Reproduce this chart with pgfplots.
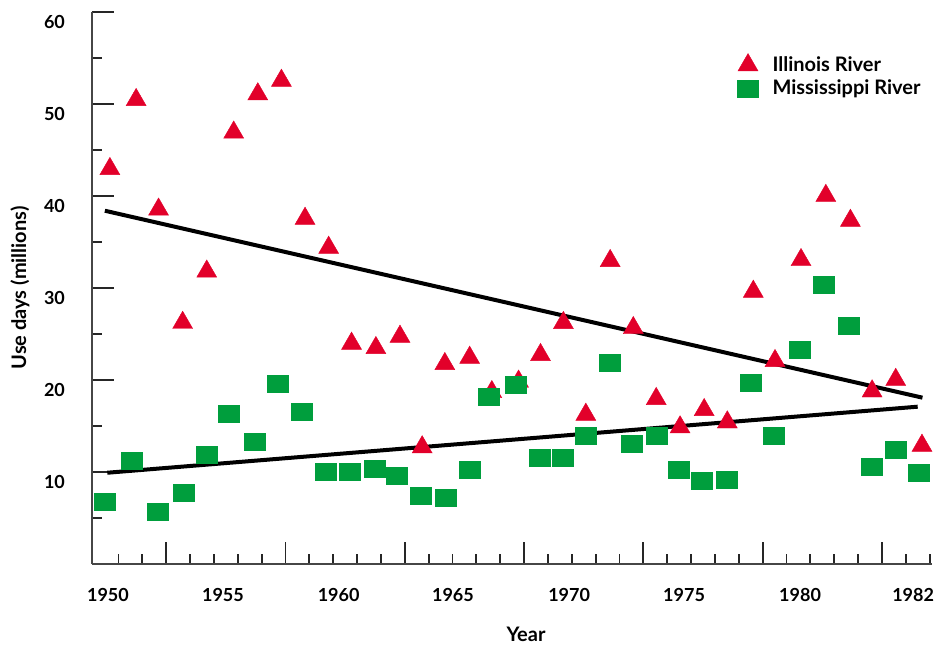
\documentclass[border=0pt]{standalone}
\usepackage{fontspec}
\setmainfont{Lato}
\usepackage{pgfplots}
\pgfplotsset{compat=1.18}

\definecolor{ired}{RGB}{226,0,42}
\definecolor{mgreen}{RGB}{0,158,61}
\definecolor{axisgray}{RGB}{70,70,70}

\begin{document}
\begin{tikzpicture}
\path[use as bounding box] (-46pt,-40.5pt) rectangle (421pt,282pt);
\begin{axis}[
scale only axis,
width=420pt, height=276pt,
xmin=-0.71, xmax=34.5,
ymin=0, ymax=60,
clip=false,
axis lines=left,
axis line style={-, draw=axisgray, line width=1pt},
tick align=inside,
tick style={draw=black!85, line width=0.9pt},
major tick length=11pt,
minor tick length=5pt,
xtick={2.4,7.4,12.4,17.4,22.4,27.4,32.4},
xticklabels={},
minor xtick={0.4,1.4,3.4,4.4,5.4,6.4,8.4,9.4,10.4,11.4,13.4,14.4,15.4,16.4,18.4,19.4,20.4,21.4,23.4,24.4,25.4,26.4,28.4,29.4,30.4,31.4,33.4,34.4},
extra x ticks={-0.04,4.78,9.63,14.42,19.29,24.11,28.97,33.71},
extra x tick labels={1950,1955,1960,1965,1970,1975,1980,1982},
extra x tick style={major tick length=0pt},
xticklabel style={anchor=center, yshift=-15.5pt},
ytick={10,20,30,40,50,60},
minor ytick={5,15,25,35,45,55},
yticklabel style={anchor=east, xshift=-10pt, yshift=-5pt},
tick label style={font=\fontsize{9}{10}\selectfont\bfseries},
/pgf/number format/assume math mode=true,
xlabel={Year},
ylabel={Use days (millions)},
label style={font=\fontsize{10}{11}\selectfont\bfseries},
xlabel style={at={(axis description cs:0.5167,-0.1268)}, anchor=center},
ylabel style={at={(axis description cs:-0.0857,0.5)}, anchor=center},
legend cell align=left,
legend style={at={(axis description cs:0.768,0.928)}, anchor=north west,
  draw=none, fill=none, inner sep=0pt, column sep=5pt, row sep=-1pt,
  font=\fontsize{10}{11}\selectfont\bfseries,
  nodes={inner sep=2pt}},
]
% Illinois River
\addplot [only marks, mark=triangle*, mark size=5.77pt,
  mark options={fill=ired, draw=ired, line width=0.2pt}]
coordinates {
(0.04,42.95)(1.14,50.45)(2.08,38.54)(3.09,26.23)(4.10,31.80)(5.23,46.91)
(6.24,51.07)(7.23,52.54)(8.22,37.54)(9.21,34.39)(10.17,23.96)(11.19,23.49)
(12.20,24.72)(13.13,12.70)(14.08,21.75)(15.12,22.43)(16.05,18.70)(17.17,19.84)
(18.09,22.73)(19.05,26.21)(19.99,16.24)(21.01,32.95)(21.98,25.66)(22.94,17.95)
(23.94,14.87)(24.95,16.75)(25.92,15.41)(27.01,29.61)(27.92,22.08)(29.01,33.05)
(30.05,40.03)(31.08,37.32)(31.99,18.78)(32.98,20.03)(34.08,12.87)
};
\addlegendentry{Illinois River}
% Mississippi River
\addplot [only marks, mark=square*, mark size=4.25pt,
  mark options={fill=mgreen, draw=mgreen, line width=0.2pt, xscale=1.235}]
coordinates {
(-0.16,6.80)(0.94,11.27)(2.03,5.73)(3.12,7.79)(4.08,11.85)(5.04,16.38)
(6.13,13.33)(7.06,19.64)(8.06,16.60)(9.09,10.07)(10.08,10.07)(11.12,10.40)
(12.08,9.64)(13.05,7.46)(14.10,7.25)(15.11,10.29)(15.90,18.20)(17.04,19.53)
(18.04,11.60)(19.01,11.60)(19.97,13.99)(20.98,21.92)(21.90,13.10)(22.95,13.99)
(23.87,10.29)(24.83,9.09)(25.88,9.20)(26.89,19.75)(27.85,13.99)(28.94,23.34)
(29.95,30.40)(31.00,25.87)(31.96,10.62)(32.97,12.47)(33.93,9.97)
};
\addlegendentry{Mississippi River}
% trend lines
\addplot [black, line width=2pt, forget plot] coordinates {(-0.17,38.40) (34.10,18.08)};
\addplot [black, line width=2pt, forget plot] coordinates {(-0.07,9.92) (33.90,17.10)};
\end{axis}
\end{tikzpicture}
\end{document}
